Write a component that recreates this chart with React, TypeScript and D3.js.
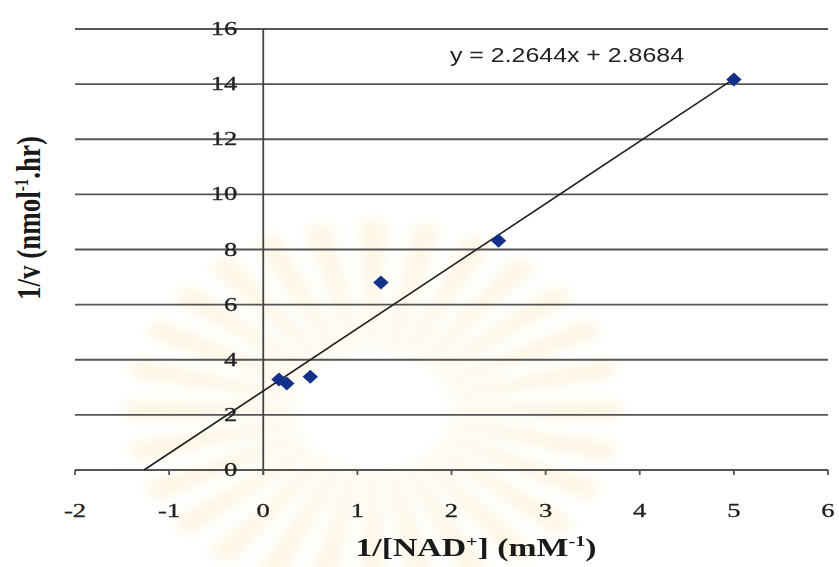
import React, { useEffect, useRef } from "react";
import * as d3 from "d3";

// 1/[NAD+] vs 1/v (Lineweaver-Burk)
const invNad = [0.167, 0.25, 0.5, 1.25, 2.5, 5];
const invV = [3.28, 3.14, 3.38, 6.8, 8.32, 14.17];
const slope = 2.2644;
const intercept = 2.8684;
const xTicks = [-2, -1, 0, 1, 2, 3, 4, 5, 6];
const yTicks = [0, 2, 4, 6, 8, 10, 12, 14, 16];

const App = () => {
  const ref = useRef<SVGSVGElement>(null);

  useEffect(() => {
    const width = 839;
    const height = 567;
    const svg = d3.select(ref.current);
    svg.selectAll("*").remove();

    const x = d3.scaleLinear().domain([-2, 6]).range([75, 828]);
    const y = d3.scaleLinear().domain([0, 16]).range([470, 29]);
    const serif = "'Liberation Serif', 'Times New Roman', 'DejaVu Serif', serif";

    svg.append("rect").attr("width", width).attr("height", height).attr("fill", "#fff");

    // faint, blurred watermark behind the plot
    svg
      .append("defs")
      .append("filter")
      .attr("id", "wm-blur")
      .attr("x", "-20%")
      .attr("y", "-20%")
      .attr("width", "140%")
      .attr("height", "140%")
      .append("feGaussianBlur")
      .attr("stdDeviation", 6);
    const rays = d3.range(28);
    const arc = d3
      .arc<number>()
      .innerRadius(60)
      .outerRadius(190)
      .startAngle((d) => (d / 28) * 2 * Math.PI - 0.05)
      .endAngle((d) => (d / 28) * 2 * Math.PI + 0.05);
    svg
      .append("g")
      .attr("filter", "url(#wm-blur)")
      .attr("transform", "translate(373,410) scale(1.3,1)")
      .selectAll("path")
      .data(rays)
      .join("path")
      .attr("d", arc)
      .attr("fill", "#f6e2a8")
      .attr("opacity", 0.35);

    // horizontal gridlines
    svg
      .append("g")
      .selectAll("line")
      .data(yTicks)
      .join("line")
      .attr("x1", x(-2))
      .attr("x2", x(6))
      .attr("y1", (d) => y(d))
      .attr("y2", (d) => y(d))
      .attr("stroke", "#555")
      .attr("stroke-width", 1.8);

    // vertical axis at x = 0
    svg
      .append("line")
      .attr("x1", x(0))
      .attr("x2", x(0))
      .attr("y1", y(0) + 5)
      .attr("y2", y(16))
      .attr("stroke", "#444")
      .attr("stroke-width", 1.8);

    // x tick marks
    svg
      .append("g")
      .selectAll("line")
      .data(xTicks)
      .join("line")
      .attr("x1", (d) => x(d))
      .attr("x2", (d) => x(d))
      .attr("y1", y(0))
      .attr("y2", y(0) + 5)
      .attr("stroke", "#555")
      .attr("stroke-width", 1.8);

    // y tick labels beside the vertical axis
    svg
      .append("g")
      .selectAll("text")
      .data(yTicks)
      .join("text")
      .attr("transform", (d) => `translate(${x(0) - 26},${y(d) + 6}) scale(1.4,1)`)
      .attr("text-anchor", "end")
      .attr("font-family", serif)
      .attr("font-size", 19)
      .attr("fill", "#222")
      .attr("stroke", "#222")
      .attr("stroke-width", 0.3)
      .text((d) => d);

    // x tick labels
    svg
      .append("g")
      .selectAll("text")
      .data(xTicks)
      .join("text")
      .attr("transform", (d) => `translate(${x(d)},517) scale(1.4,1)`)
      .attr("text-anchor", "middle")
      .attr("font-family", serif)
      .attr("font-size", 19)
      .attr("fill", "#222")
      .attr("stroke", "#222")
      .attr("stroke-width", 0.3)
      .text((d) => d);

    // trendline, forecast backward to y = 0
    const xStart = -intercept / slope;
    const xEnd = d3.max(invNad) as number;
    svg
      .append("line")
      .attr("x1", x(xStart))
      .attr("y1", y(slope * xStart + intercept))
      .attr("x2", x(xEnd))
      .attr("y2", y(slope * xEnd + intercept))
      .attr("stroke", "#222")
      .attr("stroke-width", 1.6);

    // data points
    const diamond = d3.symbol().type(d3.symbolDiamond2).size(125);
    svg
      .append("g")
      .selectAll("path")
      .data(invNad.map((v, i) => [v, invV[i]]))
      .join("path")
      .attr("d", diamond)
      .attr("transform", (d) => `translate(${x(d[0])},${y(d[1])}) scale(1.1,1)`)
      .attr("fill", "#14318a");

    // equation
    svg
      .append("text")
      .attr("x", 450)
      .attr("y", 62)
      .attr("textLength", 234)
      .attr("lengthAdjust", "spacingAndGlyphs")
      .attr("font-family", "'Liberation Sans', Arial, sans-serif")
      .attr("font-size", 20)
      .attr("fill", "#222")
      .text(`y = ${slope}x + ${intercept}`);

    // axis titles
    const xt = svg
      .append("text")
      .attr("transform", "translate(476,556) scale(1.35,1)")
      .attr("text-anchor", "middle")
      .attr("font-family", serif)
      .attr("font-weight", "bold")
      .attr("font-size", 25)
      .attr("fill", "#1a1a1a");
    xt.append("tspan").text("1/[NAD");
    xt.append("tspan").attr("dy", -10).attr("font-size", 15).text("+");
    xt.append("tspan").attr("dy", 10).text("] (mM");
    xt.append("tspan").attr("dy", -10).attr("font-size", 15).text("-1");
    xt.append("tspan").attr("dy", 10).text(")");

    const yt = svg
      .append("text")
      .attr("transform", "translate(40,218) rotate(-90) scale(1,1.25)")
      .attr("text-anchor", "middle")
      .attr("font-family", serif)
      .attr("font-weight", "bold")
      .attr("font-size", 27)
      .attr("fill", "#1a1a1a");
    yt.append("tspan").text("1/v (nmol");
    yt.append("tspan").attr("dy", -10).attr("font-size", 15).text("-1");
    yt.append("tspan").attr("dy", 10).text(".hr)");
  }, []);

  return (
    <svg
      ref={ref}
      width={839}
      height={567}
      style={{ position: "absolute", left: 0, top: 0 }}
    />
  );
};

export default App;
